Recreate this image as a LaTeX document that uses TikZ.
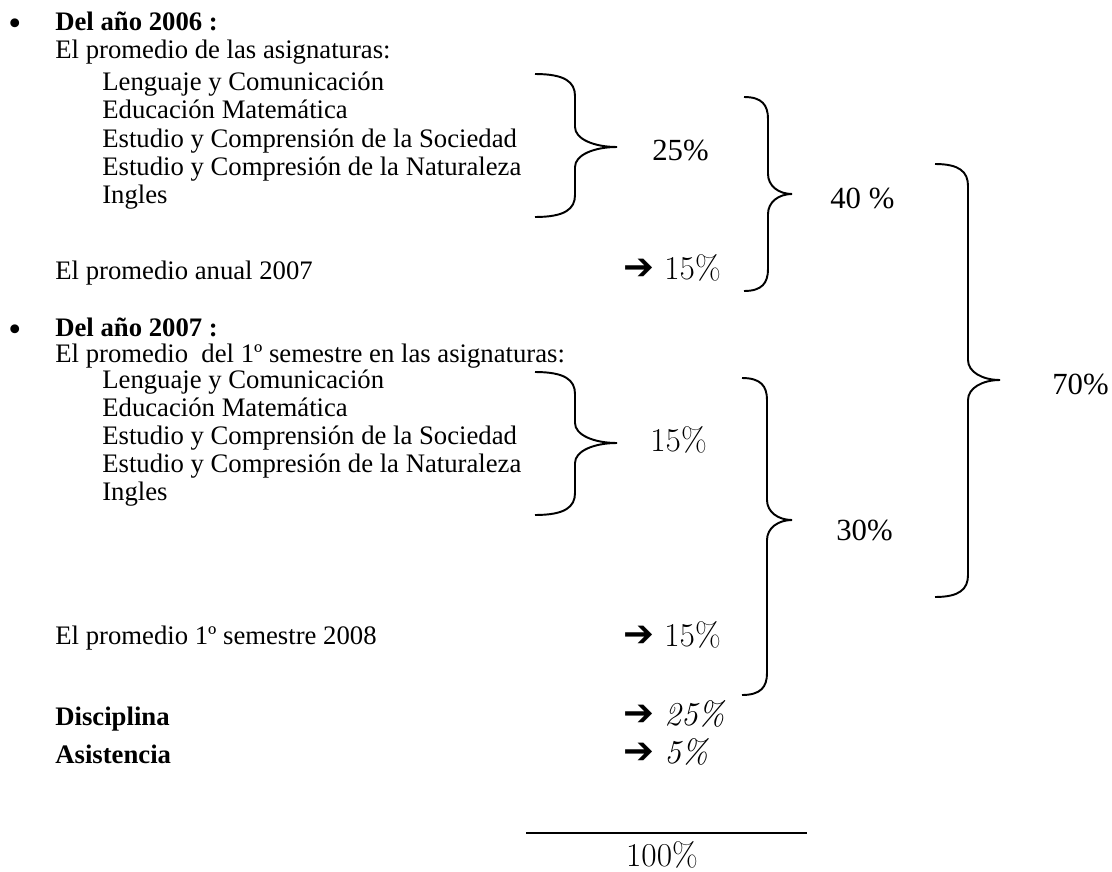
\documentclass[tikz,border=0pt]{standalone}
\usepackage{fontspec}
\setmainfont{Liberation Serif}
\newfontfamily\lmfont{Latin Modern Roman}
\newfontfamily\dingfont{DejaVu Sans}
\newcommand{\txtsize}{\fontsize{15.2}{18}\selectfont}
\newcommand{\pctsize}{\fontsize{17.5}{20}\selectfont}
\newcommand{\lmsize}{\lmfont\fontsize{19}{22}\selectfont}
\newcommand{\arr}{{\dingfont\fontsize{21}{22}\selectfont ➔}\ }
% x0, x1, x2, top, tip, bottom
\newcommand{\curlybrace}[6]{%
  \draw[curly] (#1,#4) .. controls +({0.75*(#2-#1)},0) and +(0,-14) .. (#2,#4+22)
    -- (#2,#5-20) .. controls +(0,12) and +({-0.55*(#3-#2)},0) .. (#3,#5)
    .. controls +({-0.55*(#3-#2)},0) and +(0,-12) .. (#2,#5+20)
    -- (#2,#6-22) .. controls +(0,14) and +({0.75*(#2-#1)},0) .. (#1,#6);}

\begin{document}
\begin{tikzpicture}[x=0.02cm, y=-0.02cm,
    txt/.style={anchor=base west, inner sep=0pt, font=\txtsize},
    hd/.style={txt, font=\txtsize\bfseries},
    dot/.style={anchor=base west, inner sep=0pt, font=\fontsize{21}{21}\selectfont},
    pct/.style={anchor=base west, inner sep=0pt, font=\pctsize},
    lmpct/.style={anchor=base west, inner sep=0pt, font=\lmsize, text height=12pt, text depth=0pt},
    curly/.style={line width=1.1pt}]
  \useasboundingbox (0,0) rectangle (1112,872);

  % Del año 2006
  \node (b06) at (8,35) [dot] {•};
  \node (h06) at (55,31) [hd] {Del año 2006 :};
  \node (p06) at (55,58) [txt] {El promedio de las asignaturas:};
  \node (s1) at (102,90) [txt] {Lenguaje y Comunicación};
  \node (s2) at (102,118) [txt] {Educación Matemática};
  \node (s3) at (102,147) [txt] {Estudio y Comprensión de la Sociedad};
  \node (s4) at (102,175) [txt] {Estudio y Compresión de la Naturaleza};
  \node (s5) at (102,203) [txt] {Ingles};
  \curlybrace{535}{575}{617}{74}{147}{217}
  \node (q25) at (652,160) [pct] {25\%};
  \node (an07) at (55,279) [txt] {El promedio anual 2007};
  \node (r15a) at (623,279) [lmpct] {\arr 15\%};
  \curlybrace{744}{768}{792}{97}{194}{291}
  \node (q40) at (830,208) [pct] {40 \%};
  \curlybrace{935}{968}{1000}{164}{380}{597}
  \node (q70) at (1052,394) [pct] {70\%};

  % Del año 2007
  \node (b07) at (8,341) [dot] {•};
  \node (h07) at (55,336) [hd] {Del año 2007 :};
  \node (p07) at (55,362) [txt] {El promedio\ \ del 1º semestre en las asignaturas:};
  \node (t1) at (102,388) [txt] {Lenguaje y Comunicación};
  \node (t2) at (102,416) [txt] {Educación Matemática};
  \node (t3) at (102,444) [txt] {Estudio y Comprensión de la Sociedad};
  \node (t4) at (102,472) [txt] {Estudio y Compresión de la Naturaleza};
  \node (t5) at (102,500) [txt] {Ingles};
  \curlybrace{535}{575}{617}{372}{443}{515}
  \node (q15) at (650,451) [lmpct] {15\%};
  \curlybrace{742}{767}{792}{378}{520}{695}
  \node (q30) at (836,540) [pct] {30\%};
  \node (p08) at (55,644) [txt] {El promedio 1º semestre 2008};
  \node (r15b) at (623,646) [lmpct] {\arr 15\%};

  % total
  \node (dis) at (55,725) [hd] {Disciplina};
  \node (r25) at (623,725) [lmpct] {\arr \textit{25\%}};
  \node (asi) at (55,763) [hd] {Asistencia};
  \node (r5) at (623,763) [lmpct] {\arr \textit{5\%}};
  \coordinate (sl) at (526,833);
  \coordinate (sr) at (807,833);
  \draw[line width=0.9pt] (sl) -- (sr);
  \node (tot) at (662,866) [lmpct, anchor=base] {100\%};
\end{tikzpicture}
\end{document}
